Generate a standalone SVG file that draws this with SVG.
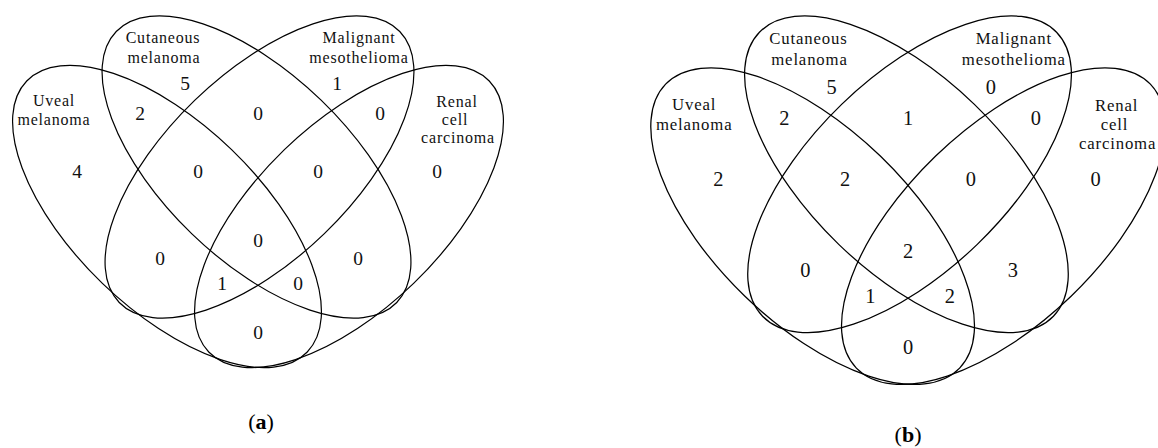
<svg xmlns="http://www.w3.org/2000/svg" width="1158" height="448" viewBox="0 0 1158 448">
<style>
.set{fill:none;stroke:#000;stroke-width:1.2}
.lbl{font-family:"Liberation Serif",serif;font-size:16px;letter-spacing:0.8px;text-anchor:middle;fill:#111}
.num{font-family:"Liberation Serif",serif;font-size:19.5px;text-anchor:middle;fill:#111}
.cap{font-family:"Liberation Serif",serif;font-size:22px;text-anchor:middle;fill:#000}
</style>
<rect width="1158" height="448" fill="#fff"/>
<g id="diagram-a">
  <g id="a-uveal">
    <ellipse class="set" cx="167" cy="216.5" rx="195" ry="93" transform="rotate(44 167 216.5)"/>
    <text class="lbl" x="54" y="106">Uveal</text>
    <text class="lbl" x="54" y="125">melanoma</text>
  </g>
  <g id="a-cutaneous">
    <ellipse class="set" cx="256.5" cy="167" rx="195" ry="93" transform="rotate(44 256.5 167)"/>
    <text class="lbl" x="163" y="43">Cutaneous</text>
    <text class="lbl" x="164" y="63">melanoma</text>
  </g>
  <g id="a-malignant">
    <ellipse class="set" cx="259.5" cy="167" rx="195" ry="93" transform="rotate(-44 259.5 167)"/>
    <text class="lbl" x="359" y="43">Malignant</text>
    <text class="lbl" x="359" y="63">mesothelioma</text>
  </g>
  <g id="a-renal">
    <ellipse class="set" cx="349" cy="216.5" rx="195" ry="93" transform="rotate(-44 349 216.5)"/>
    <text class="lbl" x="457" y="107">Renal</text>
    <text class="lbl" x="455" y="125">cell</text>
    <text class="lbl" x="458" y="143">carcinoma</text>
  </g>
  <g id="a-counts">
    <text class="num" x="185" y="90">5</text>
    <text class="num" x="337" y="90">1</text>
    <text class="num" x="140" y="120">2</text>
    <text class="num" x="258" y="120">0</text>
    <text class="num" x="380" y="120">0</text>
    <text class="num" x="77" y="178">4</text>
    <text class="num" x="198" y="178">0</text>
    <text class="num" x="318" y="178">0</text>
    <text class="num" x="437" y="178">0</text>
    <text class="num" x="258" y="247">0</text>
    <text class="num" x="160" y="265">0</text>
    <text class="num" x="358" y="265">0</text>
    <text class="num" x="222" y="290">1</text>
    <text class="num" x="298" y="290">0</text>
    <text class="num" x="258" y="339">0</text>
  </g>
  <text id="a-caption" class="cap" x="261" y="429">(<tspan font-weight="bold">a</tspan>)</text>
</g>
<g id="diagram-b">
  <g transform="translate(908 16) scale(1.048) translate(-258 -16)">
    <g id="b-uveal">
      <ellipse class="set" cx="167" cy="216.5" rx="195" ry="93" transform="rotate(44 167 216.5)"/>
      <text class="lbl" x="54" y="106">Uveal</text>
      <text class="lbl" x="54" y="125">melanoma</text>
    </g>
    <g id="b-cutaneous">
      <ellipse class="set" cx="256.5" cy="167" rx="195" ry="93" transform="rotate(44 256.5 167)"/>
      <text class="lbl" x="163" y="43">Cutaneous</text>
      <text class="lbl" x="164" y="63">melanoma</text>
    </g>
    <g id="b-malignant">
      <ellipse class="set" cx="259.5" cy="167" rx="195" ry="93" transform="rotate(-44 259.5 167)"/>
      <text class="lbl" x="359" y="43">Malignant</text>
      <text class="lbl" x="359" y="63">mesothelioma</text>
    </g>
    <g id="b-renal">
      <ellipse class="set" cx="349" cy="216.5" rx="195" ry="93" transform="rotate(-44 349 216.5)"/>
      <text class="lbl" x="457" y="107">Renal</text>
      <text class="lbl" x="455" y="125">cell</text>
      <text class="lbl" x="458" y="143">carcinoma</text>
    </g>
    <g id="b-counts">
      <text class="num" x="185" y="90">5</text>
      <text class="num" x="337" y="90">0</text>
      <text class="num" x="140" y="120">2</text>
      <text class="num" x="258" y="120">1</text>
      <text class="num" x="380" y="120">0</text>
      <text class="num" x="77" y="178">2</text>
      <text class="num" x="198" y="178">2</text>
      <text class="num" x="318" y="178">0</text>
      <text class="num" x="437" y="178">0</text>
      <text class="num" x="258" y="247">2</text>
      <text class="num" x="160" y="265">0</text>
      <text class="num" x="358" y="265">3</text>
      <text class="num" x="222" y="290">1</text>
      <text class="num" x="298" y="290">2</text>
      <text class="num" x="258" y="339">0</text>
    </g>
  </g>
  <text id="b-caption" class="cap" x="908" y="442">(<tspan font-weight="bold">b</tspan>)</text>
</g>
</svg>
